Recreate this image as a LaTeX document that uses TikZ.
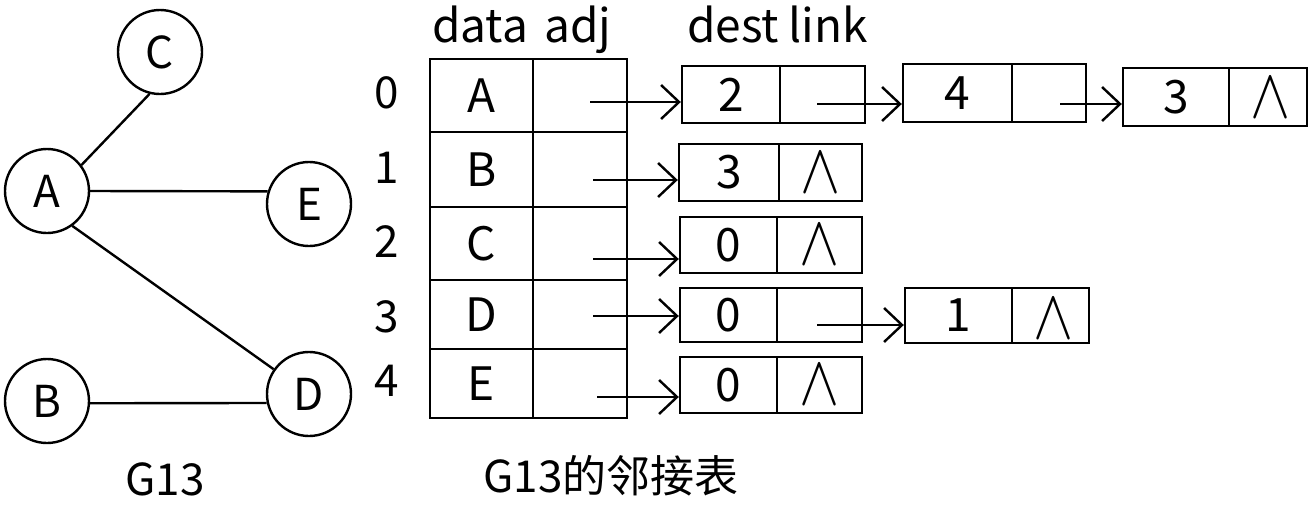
\documentclass[tikz,border=0pt]{standalone}
\usepackage{fontspec}
\setmainfont{Noto Sans CJK SC}
\usetikzlibrary{arrows.meta}
\begin{document}
\begin{tikzpicture}[x=0.5pt,y=-0.5pt,line width=1.2pt,
  vert/.style={circle,draw,minimum size=42pt,inner sep=0pt,font=\fontsize{22}{26}\selectfont},
  cell/.style={draw,rectangle,inner sep=0pt,font=\fontsize{23}{27}\selectfont},
  lbl/.style={inner sep=0pt,font=\fontsize{22}{26}\selectfont},
  hdr/.style={inner sep=0pt,anchor=base,font=\fontsize{23}{27}\selectfont},
  nil/.style={inner sep=0pt,font=\fontsize{22}{22}\selectfont},
  arr/.style={-{Straight Barb[length=9pt,width=17pt]}}]
\useasboundingbox (0,0) rectangle (1313,505);
\newcommand\nilmark{\scalebox{1.45}[1.7]{$\wedge$}}
% graph
\node[vert] (C) at (160,52) {C};
\node[vert] (A) at (47,191) {A};
\node[vert] (E) at (309,204) {E};
\node[vert] (B) at (47,401) {B};
\node[vert] (D) at (309,394) {D};
\draw (A.37) -- (C.256);
\draw (A.east) -- (E.163);
\draw (A.-54) -- (D.145);
\draw (B.-3) -- (D.192);
\node[lbl] (g) at (165,479) {G13};
% headers
\node[hdr] (hdata) at (480,42) {data};
\node[hdr] (hadj) at (578,42) {adj};
\node[hdr] (hdest) at (733,42) {dest};
\node[hdr] (hlink) at (828,42) {link};
% indices
\node[lbl] (i0) at (387,93) {0};
\node[lbl] (i1) at (387,168) {1};
\node[lbl] (i2) at (387,242) {2};
\node[lbl] (i3) at (387,317) {3};
\node[lbl] (i4) at (387,381) {4};
% table
\node[cell,minimum width=51.5pt,minimum height=36.5pt] (a0) at (481.5,95.5) {A};
\node[cell,minimum width=47pt,minimum height=36.5pt] (p0) at (580,95.5) {};
\node[cell,minimum width=51.5pt,minimum height=37.5pt] (a1) at (481.5,169.5) {B};
\node[cell,minimum width=47pt,minimum height=37.5pt] (p1) at (580,169.5) {};
\node[cell,minimum width=51.5pt,minimum height=36.5pt] (a2) at (481.5,243.5) {C};
\node[cell,minimum width=47pt,minimum height=36.5pt] (p2) at (580,243.5) {};
\node[cell,minimum width=51.5pt,minimum height=34.5pt] (a3) at (481.5,314.5) {D};
\node[cell,minimum width=47pt,minimum height=34.5pt] (p3) at (580,314.5) {};
\node[cell,minimum width=51.5pt,minimum height=34.5pt] (a4) at (481.5,383.5) {E};
\node[cell,minimum width=47pt,minimum height=34.5pt] (p4) at (580,383.5) {};
% edge nodes
\node[cell,minimum width=49pt,minimum height=28.5pt] (d0) at (731,94.5) {2};
\node[cell,minimum width=42.5pt,minimum height=28.5pt] (l0) at (822.5,94.5) {};
\node[cell,minimum width=50pt,minimum height=28.5pt] (d1) at (729,172.5) {3};
\node[cell,minimum width=41.5pt,minimum height=28.5pt] (l1) at (820.5,172.5) {};
\node[cell,minimum width=48.5pt,minimum height=28pt] (d2) at (728.5,245) {0};
\node[cell,minimum width=42.5pt,minimum height=28pt] (l2) at (819.5,245) {};
\node[cell,minimum width=48.5pt,minimum height=27pt] (d3) at (728.5,315) {0};
\node[cell,minimum width=42.5pt,minimum height=27pt] (l3) at (819.5,315) {};
\node[cell,minimum width=48.5pt,minimum height=28pt] (d4) at (728.5,385) {0};
\node[cell,minimum width=42.5pt,minimum height=28pt] (l4) at (819.5,385) {};
\node[cell,minimum width=54.5pt,minimum height=29pt] (e0) at (957.5,93) {4};
\node[cell,minimum width=37pt,minimum height=29pt] (m0) at (1049,93) {};
\node[cell,minimum width=53pt,minimum height=29pt] (f0) at (1176,97) {3};
\node[cell,minimum width=39pt,minimum height=29pt] (n0) at (1268,97) {};
\node[cell,minimum width=53.5pt,minimum height=27.5pt] (e3) at (958.5,315.5) {1};
\node[cell,minimum width=38.5pt,minimum height=27.5pt] (m3) at (1050.5,315.5) {};
% null markers
\node[nil] (z1) at (l1) {\nilmark};
\node[nil] (z2) at (l2) {\nilmark};
\node[nil] (z4) at (l4) {\nilmark};
\node[nil] (zn) at (1271,98) {\nilmark};
\node[nil] (zm) at (1054,319) {\nilmark};
% pointers
\coordinate (s0) at (590,102);
\coordinate (s1) at (593,180);
\coordinate (s2) at (593,259);
\coordinate (s3) at (593,316);
\coordinate (s4) at (597,397);
\coordinate (t0) at (817,104);
\coordinate (u0) at (1060,104);
\coordinate (t3) at (817,325);
\draw[arr] (s0) -- (s0 -| d0.west);
\draw[arr] (s1) -- (s1 -| d1.west);
\draw[arr] (s2) -- (s2 -| d2.west);
\draw[arr] (s3) -- (s3 -| d3.west);
\draw[arr] (s4) -- (s4 -| d4.west);
\draw[arr] (t0) -- (t0 -| e0.west);
\draw[arr] (u0) -- (u0 -| f0.west);
\draw[arr] (t3) -- (t3 -| e3.west);
\node[lbl] (cap) at (611,476) {G13的邻接表};
\end{tikzpicture}
\end{document}
